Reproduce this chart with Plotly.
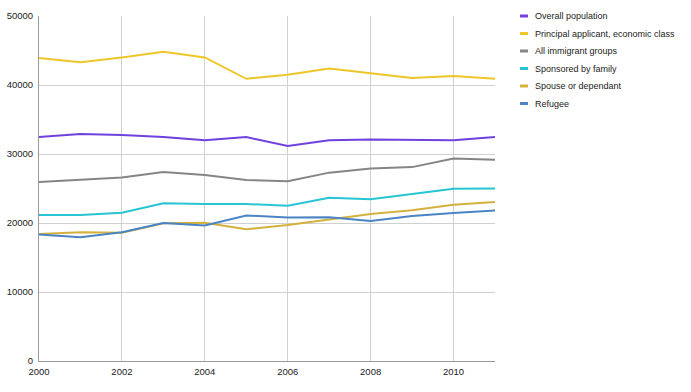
import plotly.graph_objects as go

years = list(range(2000, 2012))
series_names = [
    "Overall population",
    "Principal applicant, economic class",
    "All immigrant groups",
    "Sponsored by family",
    "Spouse or dependant",
    "Refugee",
]
overall = [32450, 32900, 32750, 32450, 32000, 32450, 31150, 32000, 32100, 32100, 32000, 32450]
principal = [43900, 43300, 44000, 44800, 44000, 40900, 41500, 42400, 41700, 41000, 41300, 40900]
all_immigrant = [25950, 26300, 26600, 27400, 26950, 26250, 26050, 27300, 27900, 28100, 29350, 29150]
family = [21150, 21150, 21500, 22850, 22750, 22750, 22500, 23650, 23450, 24200, 24950, 25000]
spouse = [18400, 18650, 18600, 19950, 20050, 19100, 19700, 20550, 21300, 21850, 22650, 23050]
refugee = [18350, 17950, 18650, 20000, 19650, 21100, 20800, 20850, 20300, 21000, 21450, 21800]
series_values = [overall, principal, all_immigrant, family, spouse, refugee]
colors = ["#6f42de", "#eec62a", "#858585", "#27c5d3", "#d4b03e", "#4a84c4"]

y_ticks = [0, 10000, 20000, 30000, 40000, 50000]
x_ticks = [2000, 2002, 2004, 2006, 2008, 2010]

W, H = 691, 392
L, R, T, B = 39, 196, 16, 31
PW, PH = W - L - R, H - T - B

fig = go.Figure()
for name, vals, col in zip(series_names, series_values, colors):
    fig.add_trace(go.Scatter(x=years, y=vals, mode="lines", name=name,
                             line=dict(color=col, width=2), showlegend=False,
                             hoverinfo="skip"))

# custom legend (swatches + labels)
leg_x0, leg_y0, step = 520, 16, 17.5
for i, (name, col) in enumerate(zip(series_names, colors)):
    y = leg_y0 + i * step
    yp = (H - B - y) / PH
    fig.add_shape(type="line", xref="paper", yref="paper",
                  x0=(leg_x0 - L) / PW, x1=(leg_x0 + 8 - L) / PW,
                  y0=yp, y1=yp, line=dict(color=col, width=3))
    fig.add_annotation(xref="paper", yref="paper",
                       x=(leg_x0 + 13 - L) / PW, y=yp,
                       text=name, showarrow=False, xanchor="left", yanchor="middle",
                       font=dict(size=9, color="#222222"))

fig.update_layout(
    width=W, height=H,
    margin=dict(l=L, r=R, t=T, b=B, autoexpand=False),
    paper_bgcolor="white", plot_bgcolor="white",
    font=dict(family="Liberation Sans, Arial, sans-serif", size=9.5, color="#222222"),
    showlegend=False,
)
fig.update_xaxes(range=[2000, 2011], tickvals=x_ticks, ticktext=[str(t) for t in x_ticks],
                 showgrid=True, gridcolor="#d0d0d0", gridwidth=1,
                 showline=True, linecolor="#9a9a9a", linewidth=1,
                 zeroline=False, ticks="", ticklabelstandoff=2, automargin=False)
fig.update_yaxes(range=[0, 50000], tickvals=y_ticks, ticktext=[str(t) for t in y_ticks],
                 showgrid=True, gridcolor="#d0d0d0", gridwidth=1,
                 showline=True, linecolor="#9a9a9a", linewidth=1,
                 zeroline=False, ticks="", ticklabelstandoff=3, automargin=False)

fig.write_html("out.html", config={"displayModeBar": False},
               post_script="document.body.style.margin='0';")
